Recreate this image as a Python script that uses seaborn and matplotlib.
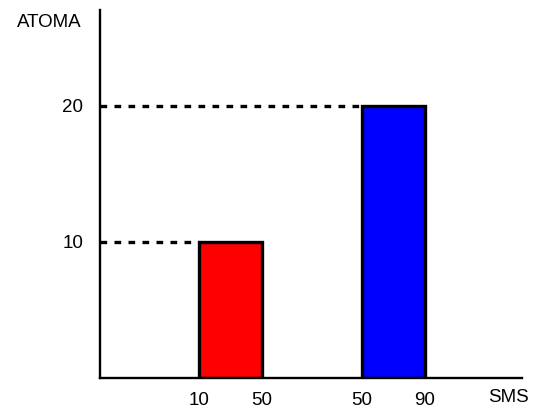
import matplotlib
matplotlib.use("Agg")
import matplotlib.pyplot as plt
import seaborn as sns
import pandas as pd

# data
range_starts = [10, 50]
range_ends = [50, 90]
counts = [10, 20]
bar_colors = ["#ff0000", "#0000ff"]
y_label = "ATOMA"
x_label = "SMS"

sns.set_style("white")
plt.rcParams["font.family"] = ["Liberation Sans", "DejaVu Sans"]
plt.rcParams["text.color"] = "black"

df = pd.DataFrame({
    "range": [f"{a}-{b}" for a, b in zip(range_starts, range_ends)],
    "count": counts,
})

bar_w = 0.386
fs = 13.5
fig = plt.figure(figsize=(5.34, 4.18), dpi=100)
ax = fig.add_axes([0.187, 0.0957, 0.790, 0.880])

sns.barplot(data=df, x="range", y="count", hue="range", palette=bar_colors,
            saturation=1, width=bar_w, edgecolor="black", linewidth=2.4,
            legend=False, ax=ax)

ax.set_xlim(-0.80, 1.788)
ax.set_ylim(0, 27)

# dotted guide lines from the axis to each bar
xmin = ax.get_xlim()[0]
for i, c in enumerate(counts):
    ax.plot([xmin, i - bar_w / 2], [c, c], color="black", lw=2.4,
            linestyle=(0, (2, 2.2)), clip_on=False, zorder=1)

ticks = []
labels = []
for i, (a, b) in enumerate(zip(range_starts, range_ends)):
    ticks += [i - bar_w / 2, i + bar_w / 2]
    labels += [str(a), str(b)]
ax.set_xticks(ticks)
ax.set_xticklabels(labels)
ax.set_yticks(counts)
ax.set_yticklabels([str(c) for c in counts])
ax.tick_params(axis="both", length=0, labelsize=fs, colors="black")
ax.tick_params(axis="x", pad=10)
ax.tick_params(axis="y", pad=12)

ax.set_xlabel("")
ax.set_ylabel("")
sns.despine(ax=ax)
for s in ["left", "bottom"]:
    ax.spines[s].set_linewidth(1.7)
    ax.spines[s].set_color("black")

ax.text(-0.121, 0.967, y_label, transform=ax.transAxes, ha="center",
        va="center", fontsize=fs, color="black")
ax.text(0.969, -0.052, x_label, transform=ax.transAxes, ha="center",
        va="center", fontsize=fs, color="black")

plt.savefig("out.png", dpi=100)
plt.close()
